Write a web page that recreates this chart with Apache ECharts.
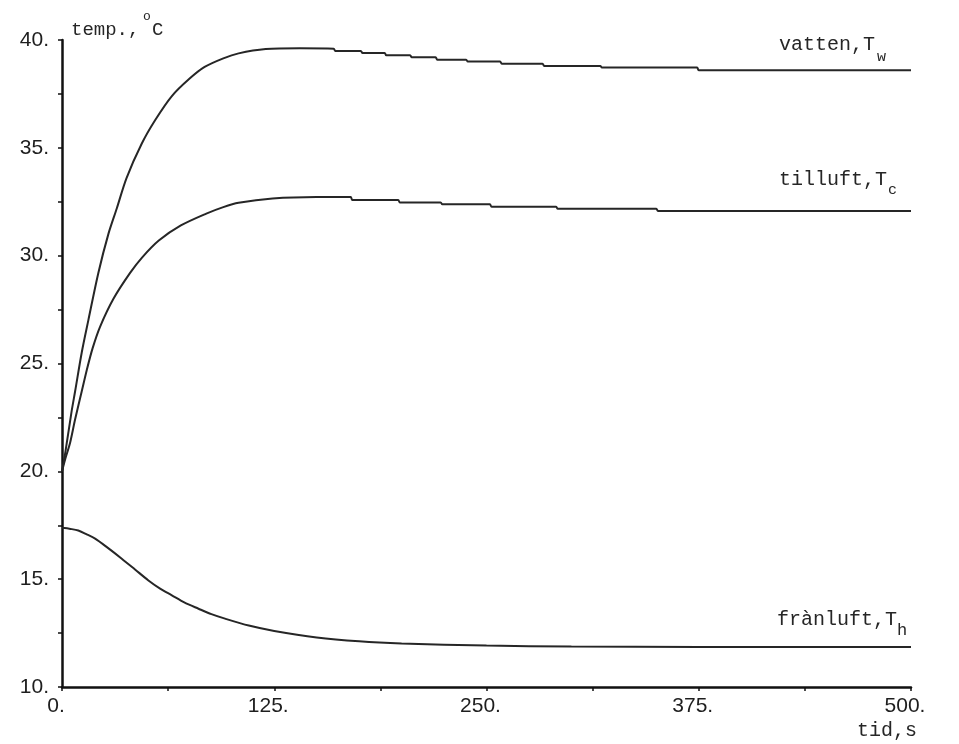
<!DOCTYPE html>
<html>
<head>
<meta charset="utf-8">
<title>temp</title>
<script src="https://cdn.jsdelivr.net/npm/echarts@6/dist/echarts.min.js"></script>
<style>
  html, body { margin: 0; padding: 0; background: #ffffff; }
  #chart { width: 959px; height: 744px; }
</style>
</head>
<body>
<div id="chart"></div>
<script>
// Time axis (s) and temperatures (°C) for the three media.
const tVatten = [0, 2, 5.7, 7.7, 11.6, 15.5, 21.4, 27.3, 32.3, 38, 47, 55, 64.7, 75, 84, 95, 104, 120, 140, 160, 161, 176, 177, 190, 191, 205, 206, 220, 221, 238, 239, 258, 259, 283, 284, 317, 318, 374, 375, 500];
const vatten  = [20.0, 20.9, 22.8, 23.7, 25.5, 27.0, 29.2, 31.0, 32.2, 33.6, 35.2, 36.3, 37.4, 38.2, 38.75, 39.15, 39.38, 39.58, 39.62, 39.6, 39.49, 39.49, 39.4, 39.4, 39.29, 39.29, 39.2, 39.2, 39.09, 39.09, 39.0, 39.0, 38.9, 38.9, 38.8, 38.8, 38.72, 38.72, 38.6, 38.6];

const tTilluft = [0, 2, 4.7, 7.7, 11.6, 14.6, 18, 22.4, 30.3, 40.1, 47, 57, 70, 85, 95, 104, 124, 150, 170, 171, 198, 199, 223, 224, 252, 253, 291, 292, 350, 351, 500];
const tilluft  = [20.0, 20.6, 21.3, 22.4, 23.7, 24.7, 25.7, 26.7, 28.0, 29.2, 29.9, 30.7, 31.4, 31.95, 32.25, 32.45, 32.65, 32.72, 32.72, 32.58, 32.58, 32.47, 32.47, 32.38, 32.38, 32.27, 32.27, 32.17, 32.17, 32.07, 32.07];

const tFranluft = [0, 5, 9.6, 14, 19.5, 27, 35.2, 43, 50.9, 58, 64.7, 72, 80.4, 88, 96, 110, 125, 150, 175, 200, 250, 300, 375, 500];
const franluft  = [17.38, 17.33, 17.26, 17.1, 16.88, 16.45, 15.95, 15.45, 14.94, 14.55, 14.25, 13.92, 13.63, 13.38, 13.17, 12.85, 12.6, 12.3, 12.12, 12.02, 11.92, 11.88, 11.86, 11.85];

// Axis ranges and tick steps
const xRange = [0, 500], xStep = 125;
const yRange = [10, 40], yStep = 5;

const pairs = (xs, ys) => xs.map((x, i) => [x, ys[i]]);

const INK = '#262626';
const MONO = '"Liberation Mono", "DejaVu Sans Mono", monospace';
const SANS = '"Liberation Sans", Arial, sans-serif';

function txt(x, y, s, size) {
  return {
    type: 'text', left: x, top: y, silent: true,
    style: { text: s, font: size + 'px ' + MONO, fill: INK }
  };
}

const chart = echarts.init(document.getElementById('chart'), null, { renderer: 'canvas' });

const lineSeries = (name, data) => ({
  name, type: 'line', data, showSymbol: false,
  smooth: 0.3,
  lineStyle: { color: INK, width: 2 }, emphasis: { disabled: true }, animation: false
});

chart.setOption({
  backgroundColor: '#ffffff',
  animation: false,
  grid: { left: 62, right: 48, top: 40, bottom: 57, containLabel: false },
  xAxis: {
    type: 'value', min: xRange[0], max: xRange[1], interval: xStep,
    axisLine: { show: true, lineStyle: { color: '#111', width: 2.5 } },
    axisTick: { show: true, length: 4, lineStyle: { color: '#111', width: 1.5 } },
    minorTick: { show: true, splitNumber: 2, length: 4, lineStyle: { color: '#111', width: 1.5 } },
    splitLine: { show: false },
    axisLabel: {
      formatter: v => v + '.', margin: 9, color: '#1e1e1e',
      fontFamily: SANS, fontSize: 21, padding: [0, 12, 0, 0]
    }
  },
  yAxis: {
    type: 'value', min: yRange[0], max: yRange[1], interval: yStep,
    axisLine: { show: true, lineStyle: { color: '#111', width: 2.5 } },
    axisTick: { show: true, length: 4, lineStyle: { color: '#111', width: 1.5 } },
    minorTick: { show: true, splitNumber: 2, length: 4, lineStyle: { color: '#111', width: 1.5 } },
    splitLine: { show: false },
    axisLabel: {
      formatter: v => v + '.', margin: 13, color: '#1e1e1e',
      fontFamily: SANS, fontSize: 21, padding: [0, 0, 18, 0]
    }
  },
  series: [
    lineSeries('vatten', pairs(tVatten, vatten)),
    lineSeries('tilluft', pairs(tTilluft, tilluft)),
    lineSeries('frånluft', pairs(tFranluft, franluft))
  ],
  graphic: [
    txt(71, 20, 'temp.,', 19),
    txt(143, 10, 'o', 13),
    txt(152, 20, 'C', 19),
    txt(779, 35, 'vatten,T', 20),
    txt(877, 50, 'w', 15),
    txt(779, 170, 'tilluft,T', 20),
    txt(888, 183, 'c', 15),
    txt(777, 610, 'frànluft,T', 20),
    txt(897, 622, 'h', 17),
    txt(857, 721, 'tid,s', 20)
  ]
});
</script>
</body>
</html>
